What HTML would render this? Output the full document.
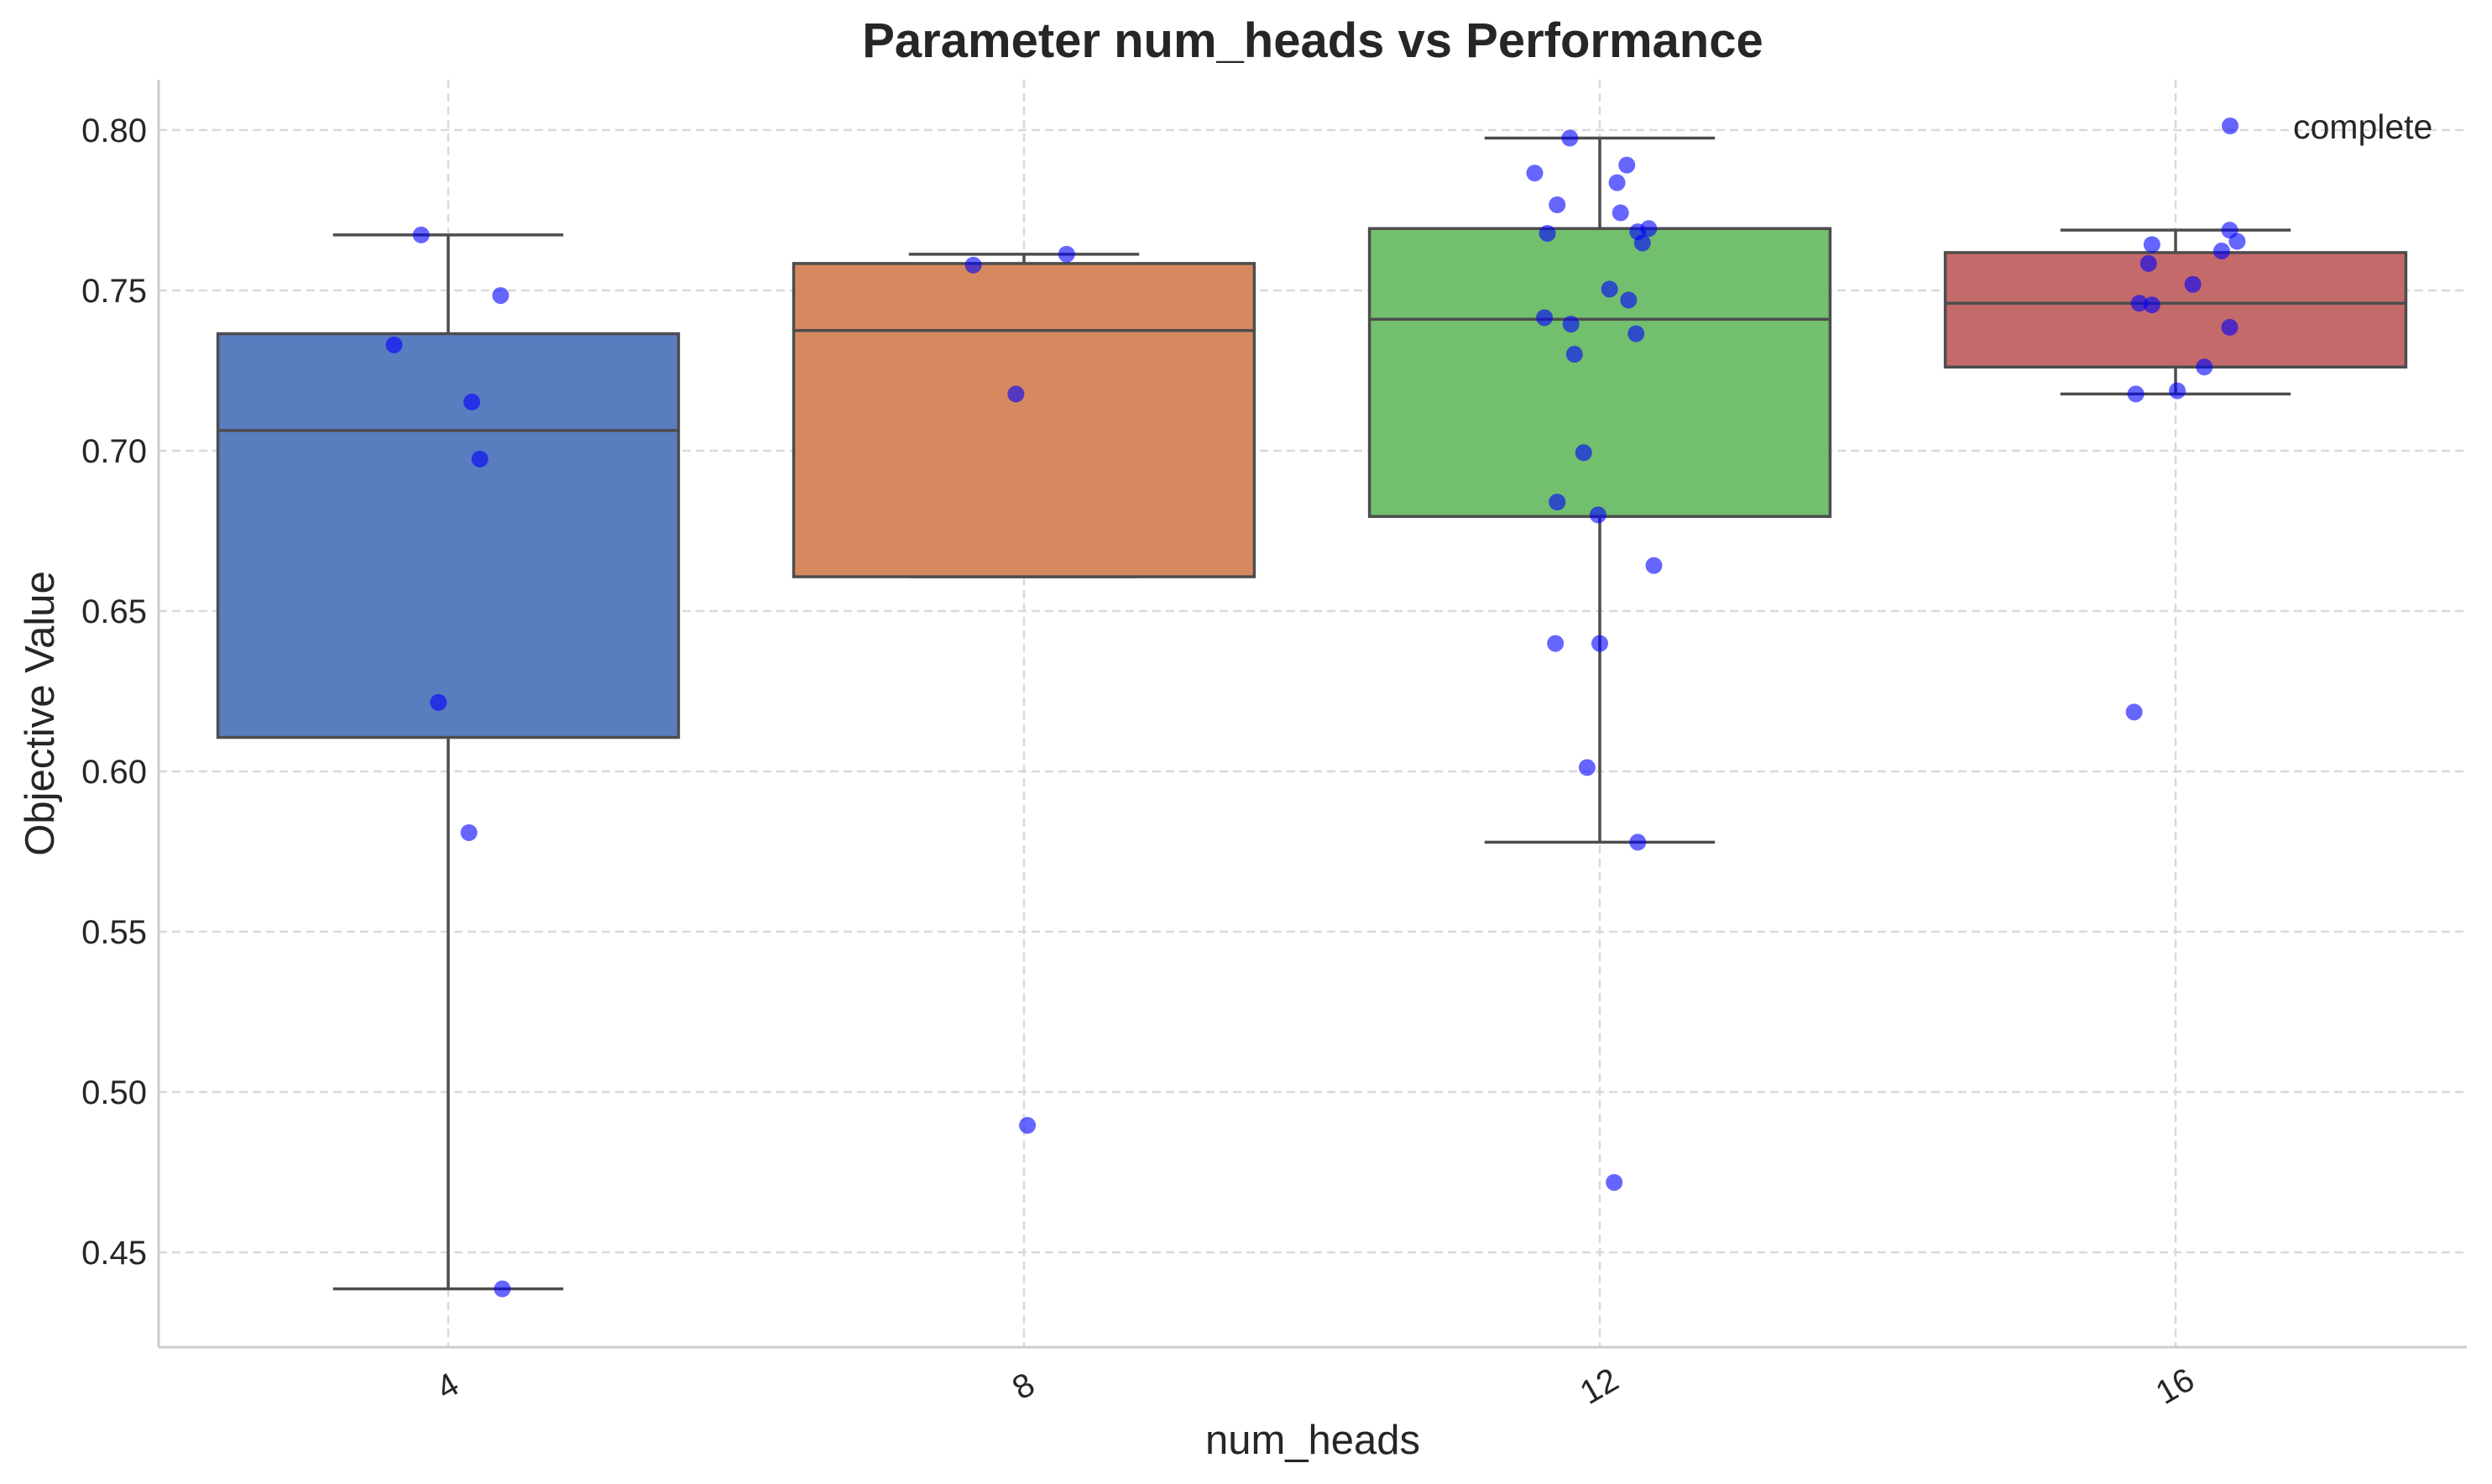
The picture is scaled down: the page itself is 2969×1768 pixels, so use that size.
<!DOCTYPE html>
<html><head><meta charset="utf-8"><style>
html,body{margin:0;padding:0;background:#fff;}
svg{display:block;font-family:"Liberation Sans",Arial,sans-serif;}
</style></head><body>
<svg id="chart" width="2969" height="1768" viewBox="0 0 2969 1768" xmlns="http://www.w3.org/2000/svg">
<text x="1564" y="68" text-anchor="middle" font-size="58" font-weight="bold" fill="#262626">Parameter num_heads vs Performance</text>
<text x="1564" y="1732" text-anchor="middle" font-size="49" fill="#262626">num_heads</text>
<text transform="translate(64,850) rotate(-90)" text-anchor="middle" font-size="49" fill="#262626">Objective Value</text>
<g id="grid"></g>
<g id="boxes"></g>
<g id="points"></g>
<g id="axes"></g>
<g>
<circle cx="2657" cy="150" r="10" fill="rgba(0,0,255,0.6)"/>
<text x="2732" y="165" font-size="41" fill="#262626">complete</text>
</g>
</svg>
<script>
const categories = ["4","8","12","16"];
const q1 = [0.6106, 0.6607, 0.6795, 0.7261];
const medians = [0.7063, 0.7375, 0.741, 0.746];
const q3 = [0.7365, 0.7584, 0.7693, 0.7618];
const whiskLo = [0.4386, 0.6607, 0.5779, 0.7177];
const whiskHi = [0.7673, 0.7613, 0.7975, 0.7688];
const yTicks = [0.45,0.50,0.55,0.60,0.65,0.70,0.75,0.80];
const pointCat = [0,0,0,0,0,0,0,0, 1,1,1,1,
 2,2,2,2,2,2,2,2,2,2,2,2,2,2,2,2,2,2,2,2,2,2,2,2,2,
 3,3,3,3,3,3,3,3,3,3,3,3,3];
const pointVal = [0.7673,0.7484,0.733,0.7152,0.6974,0.6215,0.5809,0.4386,
 0.7579,0.7613,0.7177,0.4896,
 0.7975,0.7891,0.7866,0.7836,0.7767,0.7742,0.7693,0.7678,0.7683,0.7648,0.7504,0.747,0.7415,0.7395,0.7365,0.7301,0.6994,0.684,0.68,0.6642,0.6399,0.6399,0.6012,0.5779,0.4718,
 0.7688,0.7643,0.7653,0.7623,0.7584,0.7519,0.746,0.7455,0.7385,0.7261,0.7187,0.7177,0.6185];
const pointJitter = [-0.047,0.091,-0.094,0.041,0.055,-0.017,0.036,0.094,
 -0.088,0.074,-0.014,0.006,
 -0.052,0.047,-0.113,0.030,-0.074,0.036,0.085,-0.091,0.066,0.074,0.017,0.050,-0.096,-0.050,0.063,-0.044,-0.028,-0.074,-0.003,0.094,-0.077,0.000,-0.022,0.066,0.025,
 0.094,-0.041,0.107,0.080,-0.047,0.030,-0.063,-0.041,0.094,0.050,0.003,-0.069,-0.072];
const colors = ["#5a7dbf","#d6895f","#72bf6e","#c46a6a"];
const NS="http://www.w3.org/2000/svg";
const L=189,R=2939,T=95,B=1605;
const xs = i => 534 + i*686;
const ys = v => 155 + (0.80 - v)/0.05*191;
const bw = 686*0.8, cw = 686*0.4;
function mk(tag, attrs, parent){const e=document.createElementNS(NS,tag);for(const k in attrs)e.setAttribute(k,attrs[k]);parent.appendChild(e);return e;}
const grid=document.getElementById('grid'), boxes=document.getElementById('boxes'), pts=document.getElementById('points'), axes=document.getElementById('axes');
yTicks.forEach(t=>{
  const g=mk('line',{x1:L,x2:R,y1:ys(t),y2:ys(t),stroke:'#d9d9d9','stroke-width':2.5,'stroke-dasharray':'10,6'},grid);
  
  
  const tx=mk('text',{x:L-14,y:ys(t)+14,'text-anchor':'end','font-size':40,fill:'#262626'},axes);
  tx.textContent=t.toFixed(2);
  
  
});
categories.forEach((c,i)=>{
  const g=mk('line',{x1:xs(i),x2:xs(i),y1:T,y2:B,stroke:'#d9d9d9','stroke-width':2.5,'stroke-dasharray':'10,6'},grid);
  
  
  const x=xs(i), st={stroke:'#4d4d4d','stroke-width':3.5,fill:'none'};
  const w1=mk('line',Object.assign({x1:x,x2:x,y1:ys(q3[i]),y2:ys(whiskHi[i])},st),boxes);
  
  
  const w2=mk('line',Object.assign({x1:x,x2:x,y1:ys(q1[i]),y2:ys(whiskLo[i])},st),boxes);
  
  
  const c1=mk('line',Object.assign({x1:x-cw/2,x2:x+cw/2,y1:ys(whiskHi[i]),y2:ys(whiskHi[i])},st),boxes);
  
  
  const c2=mk('line',Object.assign({x1:x-cw/2,x2:x+cw/2,y1:ys(whiskLo[i]),y2:ys(whiskLo[i])},st),boxes);
  
  
  const b=mk('rect',{x:x-bw/2,y:ys(q3[i]),width:bw,height:ys(q1[i])-ys(q3[i]),fill:colors[i],stroke:'#4d4d4d','stroke-width':3.5},boxes);
  
  
  const m=mk('line',Object.assign({x1:x-bw/2,x2:x+bw/2,y1:ys(medians[i]),y2:ys(medians[i])},st),boxes);
  
  
  const tx=mk('text',{transform:`translate(${x+6},${B+58}) rotate(-30)`,'text-anchor':'middle','font-size':40,fill:'#262626'},axes);
  tx.textContent=c;
  
  
});
pointVal.forEach((v,k)=>{
  const p=mk('circle',{cx:xs(pointCat[k]+pointJitter[k]),cy:ys(v),r:10,fill:'rgba(0,0,255,0.6)'},pts);
  
  
});
const s1=mk('line',{x1:L,x2:L,y1:T,y2:B,stroke:'#cccccc','stroke-width':3},axes);


const s2=mk('line',{x1:L,x2:R,y1:B,y2:B,stroke:'#cccccc','stroke-width':3},axes);


</script>
</body></html>
